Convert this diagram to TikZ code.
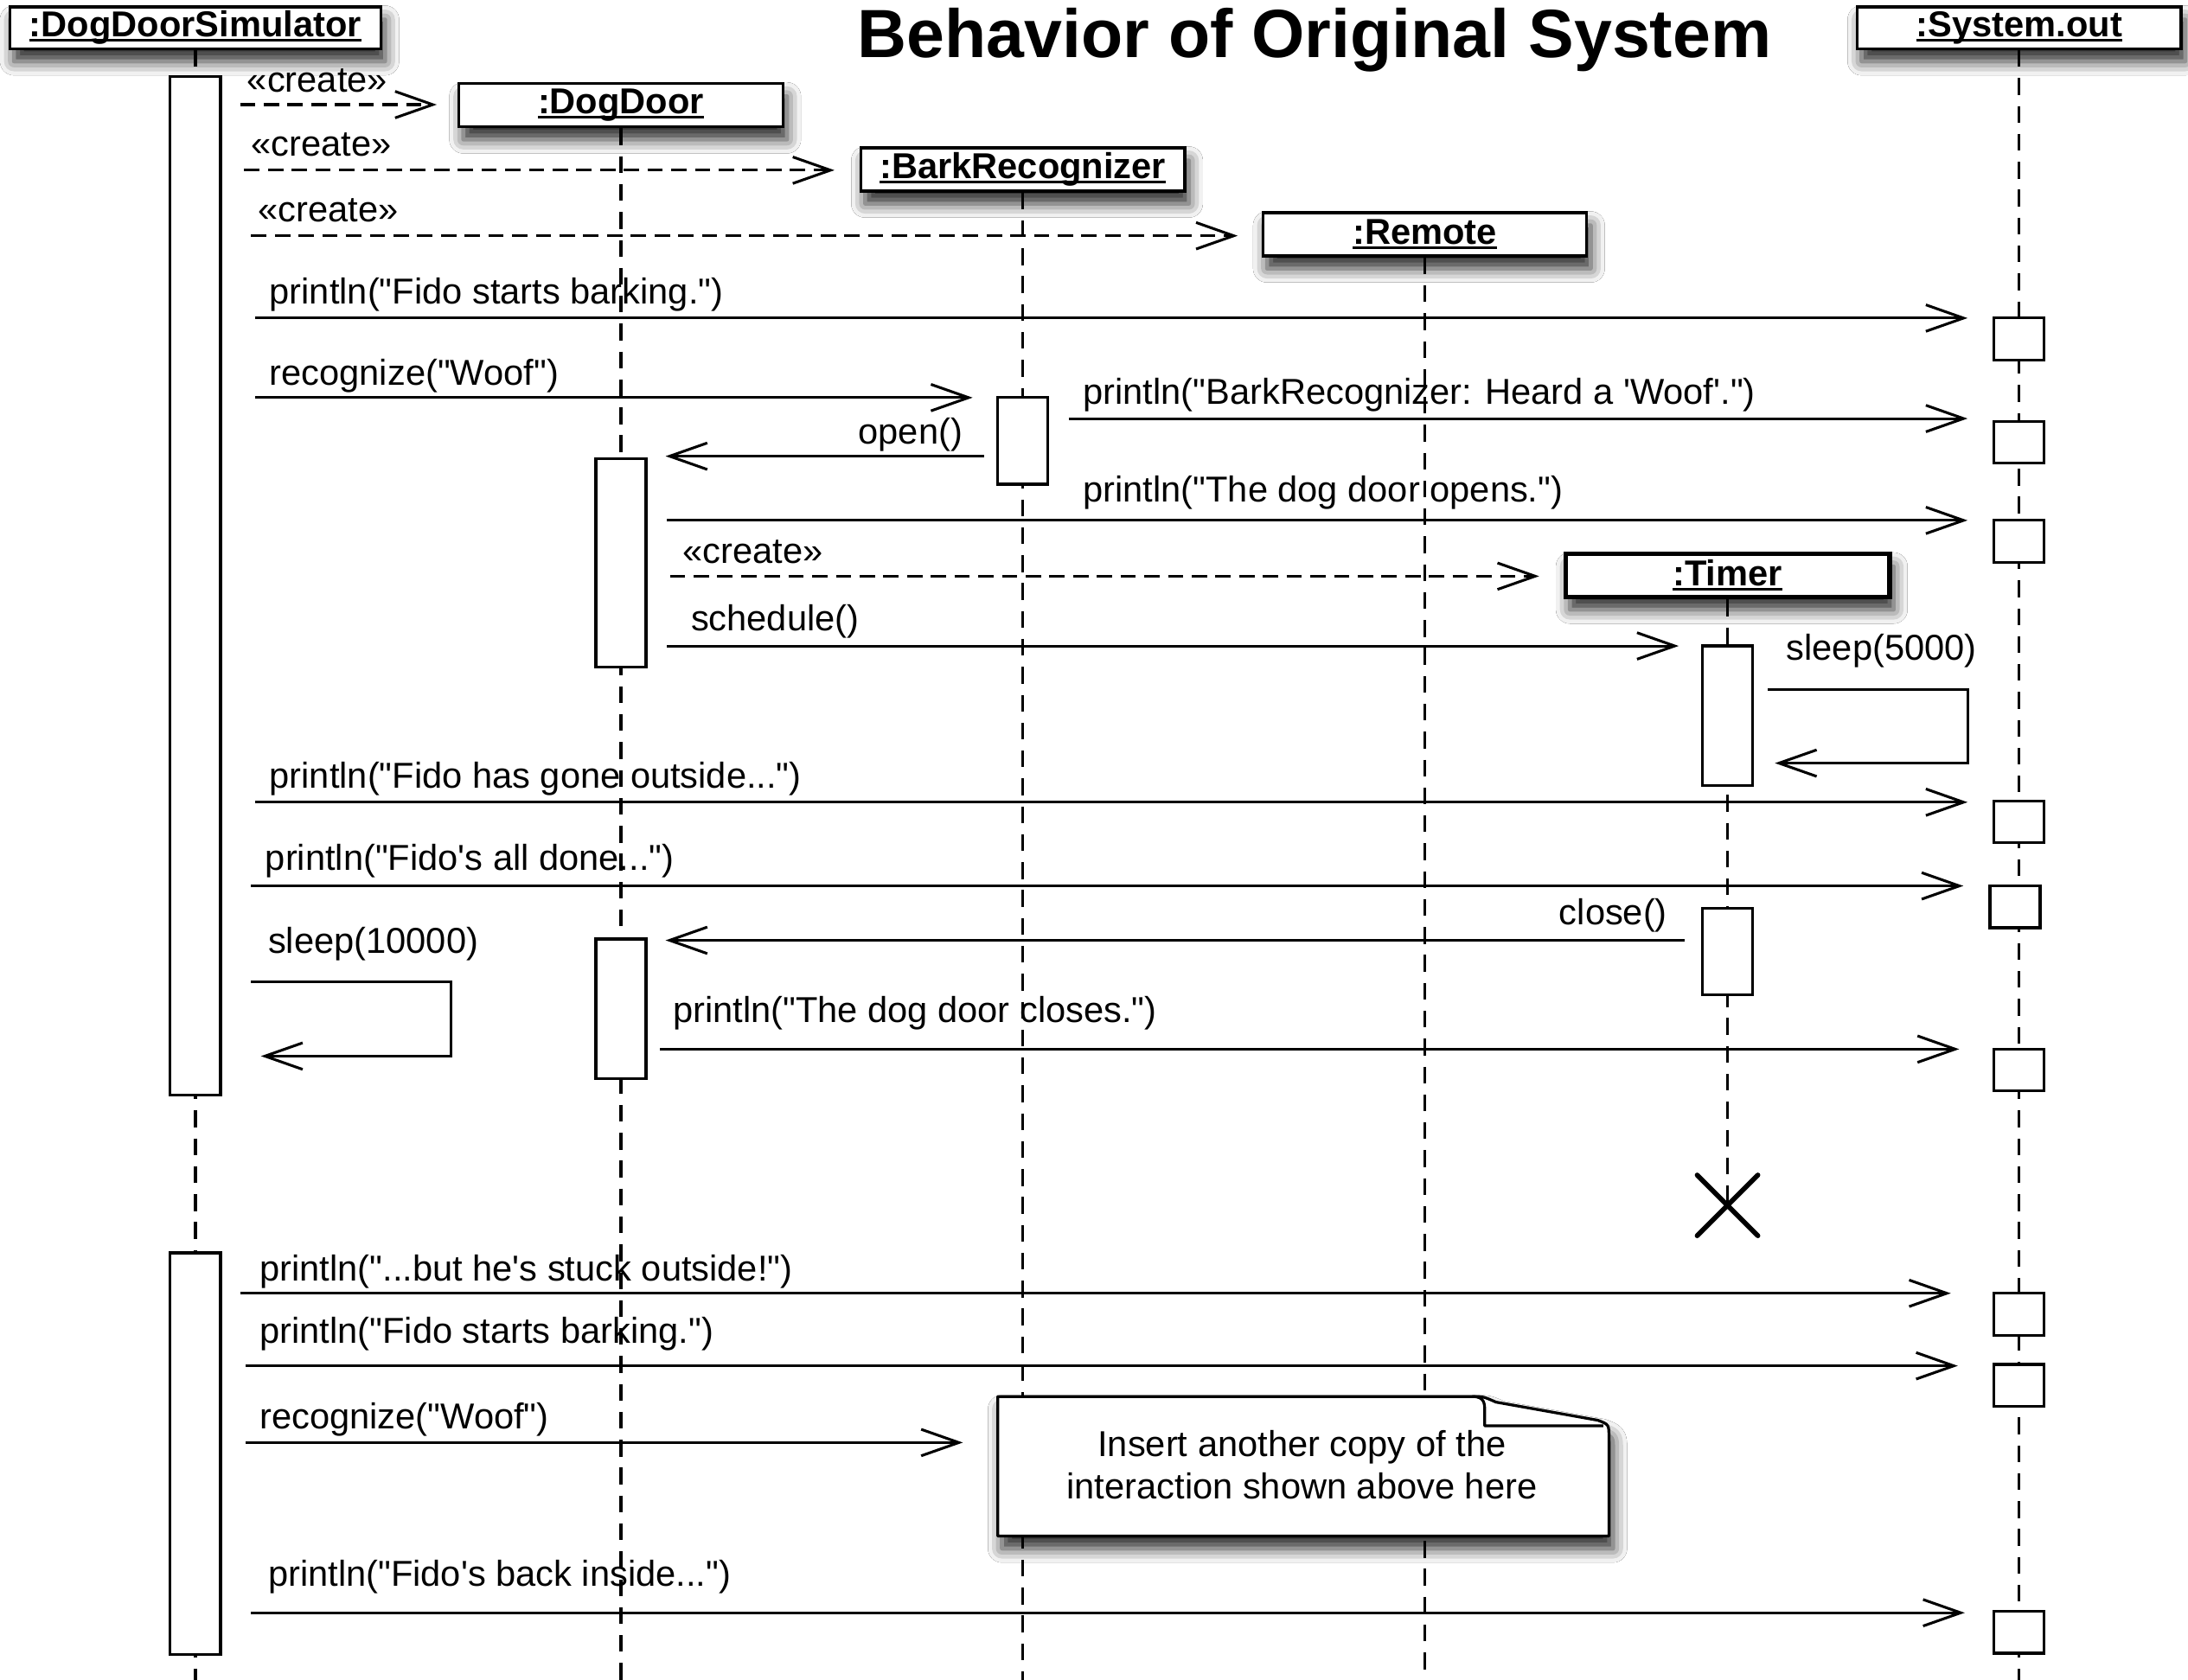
\documentclass[tikz,border=0pt]{standalone}
\usepackage{fontspec}
\setmainfont{Liberation Sans}[Ligatures=TeXOff]
\usetikzlibrary{arrows.meta,shadows.blur,shapes.misc}

\newcommand\lblfont{\fontsize{25.8pt}{30pt}\selectfont}
\newcommand\titlefont{\bfseries\fontsize{48.9pt}{55pt}\selectfont}
% bold, underlined object name for a lifeline head
\newcommand\objname[1]{\setbox0\hbox{\bfseries #1}\rlap{\rule[-3.4pt]{\wd0}{2.1pt}}\box0}
% a straight message: name, style, x start, x end, y, label position, label
\newcommand\sendmsg[7]{%
  \coordinate (#1s) at (#3,#5);
  \coordinate (#1e) at (#4,#5);
  \draw[#2] (#1s) -- (#1e);
  \node[lbl] (#1l) at #6 {#7};}

\tikzset{
  softshadow/.style={blur shadow={shadow xshift=3pt, shadow yshift=-9pt,
      shadow blur radius=10pt, shadow opacity=85}},
  head/.style={draw, line width=2pt, fill=white, minimum width=232pt,
    minimum height=31pt, inner sep=0pt, font=\lblfont, softshadow},
  act/.style={draw, line width=2pt, fill=white, minimum width=36pt, inner sep=0pt},
  outbox/.style={act, minimum height=30pt},
  life/.style={line width=2pt, dash pattern=on 12pt off 8pt},
  msg/.style={line width=1.9pt, -{Straight Barb[length=27pt,width=19pt]}},
  create/.style={msg, dash pattern=on 11pt off 6pt},
  lbl/.style={anchor=base west, inner sep=0pt, font=\lblfont},
  lblr/.style={anchor=base east, inner sep=0pt, font=\lblfont},
  notebox/.style={draw, line width=2pt, fill=white, line join=round, softshadow}
}

\begin{document}
\begin{tikzpicture}[x=1pt, y=-1pt]
\useasboundingbox (0,0) rectangle (1568,1204);
\fill[white] (0,0) rectangle (1568,1204);

% title
\node[anchor=base, inner sep=0pt, font=\titlefont] (title) at (942,41.5) {Behavior of Original System};

% lifeline heads
\node[head, minimum width=266pt, minimum height=30pt] (sim) at (140,20) {\objname{:DogDoorSimulator}};
\node[head] (door) at (445,75.5) {\objname{:DogDoor}};
\node[head] (bark) at (733,121.5) {\objname{:BarkRecognizer}};
\node[head] (remote) at (1021,168) {\objname{:Remote}};
\node[head, minimum height=30pt] (sysout) at (1447,20) {\objname{:System.out}};
\node[head, line width=3.5pt] (timer) at (1238,412.5) {\objname{:Timer}};

% end of the timer's life
\node[cross out, draw, line width=3.5pt, line cap=round, minimum size=40pt, inner sep=0pt] (timerend) at (1238,864) {};

% lifelines
\coordinate (simbot) at (140,1204);
\coordinate (doorbot) at (445,1204);
\coordinate (barkbot) at (733,1204);
\coordinate (remotebot) at (1021,1204);
\coordinate (outbot) at (1447,1204);
\draw[life] (sim.south) -- (simbot);
\draw[life] (door.south) -- (doorbot);
\draw[life] (bark.south) -- (barkbot);
\draw[life] (remote.south) -- (remotebot);
\draw[life] (sysout.south) -- (outbot);
\draw[life] (timer.south) -- (timerend.center);

% activation bars
\node[act, minimum height=730pt] (simA) at (140,420) {};
\node[act, minimum height=288pt] (simB) at (140,1042) {};
\node[act, minimum height=149pt] (doorA) at (445,403.5) {};
\node[act, minimum height=100pt] (doorB) at (445,723) {};
\node[act, minimum height=62pt] (barkA) at (733,316) {};
\node[act, minimum height=100pt] (timerA) at (1238,513) {};
\node[act, minimum height=62pt] (timerB) at (1238,682) {};
\node[outbox] (out1) at (1447,243) {};
\node[outbox] (out2) at (1447,317) {};
\node[outbox] (out3) at (1447,388) {};
\node[outbox] (out4) at (1447,589) {};
\node[outbox] (out5) at (1444,650) {};
\node[outbox] (out6) at (1447,767) {};
\node[outbox] (out7) at (1447,942) {};
\node[outbox] (out8) at (1447,993) {};
\node[outbox] (out9) at (1447,1170) {};

% creation messages
\sendmsg{cA}{create}{172}{313}{75}{(177,66)}{«create»}
\sendmsg{cB}{create}{175}{598}{122}{(180,112)}{«create»}
\sendmsg{cC}{create}{180}{887}{169}{(185,159)}{«create»}

% first bark
\sendmsg{mA}{msg}{183}{1410}{228}{(193,218)}{println("Fido starts barking.")}
\sendmsg{mB}{msg}{183}{697}{285}{(193,276)}{recognize("Woof")}
\sendmsg{mC}{msg}{766}{1410}{300}{(776,290)}{println("BarkRecognizer: Heard a 'Woof'.")}
\coordinate (mDs) at (705,327);
\coordinate (mDe) at (477,327);
\draw[msg] (mDs) -- (mDe);
\node[lblr] (mDl) at (690,318) {open()};
\sendmsg{mE}{msg}{478}{1410}{373}{(776,360)}{println("The dog door opens.")}
\sendmsg{cD}{create}{480}{1103}{413}{(489,404)}{«create»}
\sendmsg{mF}{msg}{478}{1203}{463}{(495,452)}{schedule()}

% timer sleeps
\coordinate (sAs) at (1267,494);
\coordinate (sAa) at (1410,494);
\coordinate (sAb) at (1410,547);
\coordinate (sAe) at (1272,547);
\draw[msg] (sAs) -- (sAa) -- (sAb) -- (sAe);
\node[lbl] (sAl) at (1280,473) {sleep(5000)};

\sendmsg{mG}{msg}{183}{1410}{575}{(193,565)}{println("Fido has gone outside...")}
\sendmsg{mH}{msg}{180}{1407}{635}{(190,624)}{println("Fido's all done...")}
\coordinate (mIs) at (1207,674);
\coordinate (mIe) at (477,674);
\draw[msg] (mIs) -- (mIe);
\node[lblr] (mIl) at (1195,663) {close()};

% simulator sleeps
\coordinate (sBs) at (180,704);
\coordinate (sBa) at (323,704);
\coordinate (sBb) at (323,757);
\coordinate (sBe) at (187,757);
\draw[msg] (sBs) -- (sBa) -- (sBb) -- (sBe);
\node[lbl] (sBl) at (192,683) {sleep(10000)};

\sendmsg{mJ}{msg}{473}{1404}{752}{(482,733)}{println("The dog door closes.")}

% second bark
\sendmsg{mK}{msg}{172}{1398}{927}{(186,918)}{println("...but he's stuck outside!")}
\sendmsg{mL}{msg}{176}{1403}{979}{(186,963)}{println("Fido starts barking.")}
\sendmsg{mM}{msg}{176}{690}{1034}{(186,1024)}{recognize("Woof")}
\sendmsg{mN}{msg}{180}{1408}{1156}{(192,1137)}{println("Fido's back inside...")}

% note with folded corner
\draw[notebox] (715,1001) -- (1055,1001) .. controls (1063,1001) .. (1072,1005)
  -- (1145,1018) .. controls (1153,1021) .. (1153,1030) -- (1153,1101) -- (715,1101) -- cycle;
\draw[line width=2pt, line join=round] (1055,1001) .. controls (1064,1001) and (1064,1006) .. (1064,1012)
  -- (1064,1022) -- (1149,1022);
\node[align=center, inner sep=0pt, font=\lblfont] (notetext) at (933,1050)
  {Insert another copy of the\\interaction shown above here};
\end{tikzpicture}
\end{document}
